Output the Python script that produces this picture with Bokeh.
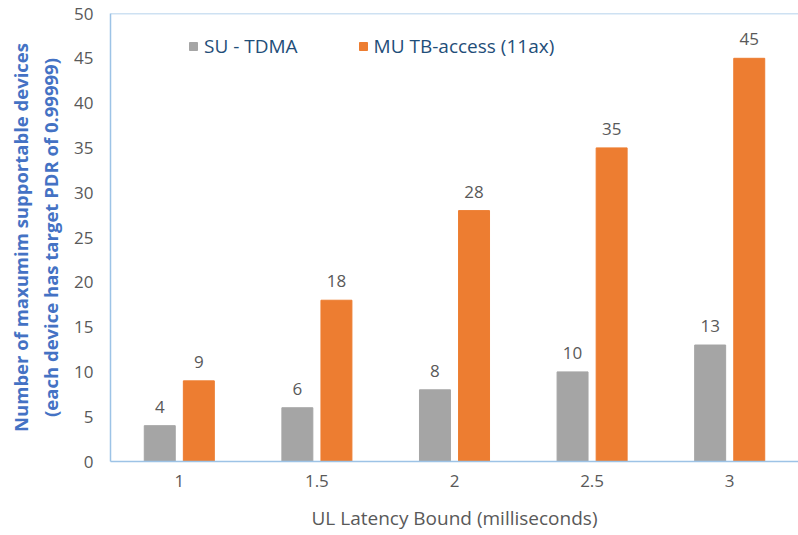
from bokeh.plotting import figure
from bokeh.models import ColumnDataSource, Range1d, LabelSet, Legend, LegendItem, Span
from bokeh.transform import dodge
from bokeh.core.properties import value
from bokeh.embed import file_html
from bokeh.resources import INLINE

categories = ["1", "1.5", "2", "2.5", "3"]
su_tdma = [4, 6, 8, 10, 13]
mu_tb = [9, 18, 28, 35, 45]
y_ticks = [0, 5, 10, 15, 20, 25, 30, 35, 40, 45, 50]

FONT = "Open Sans"
GRAY_TXT = "#595959"
AXIS_BLUE = "#9DC3E6"

source = ColumnDataSource(data=dict(
    x=categories,
    su=su_tdma,
    mu=mu_tb,
    su_txt=[str(v) for v in su_tdma],
    mu_txt=[str(v) for v in mu_tb],
))

p = figure(
    x_range=categories,
    y_range=Range1d(0, 50),
    width=798, height=535,
    output_backend="svg",
    toolbar_location=None,
    min_border_left=110, min_border_right=0,
    min_border_top=13, min_border_bottom=74,
)

off = 0.142
w = 0.225
r_su = p.vbar(x=dodge("x", -off, range=p.x_range), top="su", width=w, source=source,
              fill_color="#A5A5A5", line_color="#A5A5A5")
r_mu = p.vbar(x=dodge("x", off, range=p.x_range), top="mu", width=w, source=source,
              fill_color="#ED7D31", line_color="#ED7D31")

for col, txt, o in (("su", "su_txt", -off), ("mu", "mu_txt", off)):
    labels = LabelSet(x=dodge("x", o, range=p.x_range), y=col, text=txt, source=source,
                      text_align="center", text_baseline="middle", y_offset=19,
                      text_font=value(FONT), text_font_size=value("17px"),
                      text_color=GRAY_TXT)
    p.add_layout(labels)

p.xgrid.grid_line_color = None
p.ygrid.grid_line_color = None
p.outline_line_color = None
p.background_fill_color = "white"
p.border_fill_color = "white"

p.add_layout(Span(location=50, dimension="width", line_color=AXIS_BLUE, line_width=1.5))

p.yaxis.ticker = y_ticks
p.yaxis.axis_line_color = AXIS_BLUE
p.yaxis.axis_line_width = 1.5
p.yaxis.major_tick_line_color = None
p.yaxis.minor_tick_line_color = None
p.yaxis.major_tick_out = 0
p.yaxis.major_label_standoff = 17
p.yaxis.major_label_text_font = FONT
p.yaxis.major_label_text_font_size = "17px"
p.yaxis.major_label_text_color = GRAY_TXT
p.yaxis.axis_label = "Number of maxumim supportable devices\n(each device has target PDR of 0.99999)"
p.yaxis.axis_label_text_font = FONT
p.yaxis.axis_label_text_font_size = "18.5px"
p.yaxis.axis_label_text_font_style = "bold"
p.yaxis.axis_label_text_color = "#4472C4"
p.yaxis.axis_label_standoff = 8

p.xaxis.axis_line_color = AXIS_BLUE
p.xaxis.axis_line_width = 1.5
p.xaxis.major_tick_line_color = None
p.xaxis.minor_tick_line_color = None
p.xaxis.major_tick_out = 0
p.xaxis.major_label_standoff = 13
p.xaxis.major_label_text_font = FONT
p.xaxis.major_label_text_font_size = "17px"
p.xaxis.major_label_text_color = GRAY_TXT
p.xaxis.axis_label = "UL Latency Bound (milliseconds)"
p.xaxis.axis_label_text_font = FONT
p.xaxis.axis_label_text_font_size = "19px"
p.xaxis.axis_label_text_font_style = "normal"
p.xaxis.axis_label_text_color = GRAY_TXT
p.xaxis.axis_label_standoff = 15

legend = Legend(
    items=[LegendItem(label="SU - TDMA", renderers=[r_su]),
           LegendItem(label="MU TB-access (11ax)", renderers=[r_mu])],
    orientation="horizontal",
    location=(78, 402),
    padding=0, margin=0, spacing=60,
    glyph_width=10, glyph_height=10, label_standoff=6,
    border_line_alpha=0, background_fill_alpha=0,
    label_text_font=FONT, label_text_font_size="19px", label_text_color="#1F4E79",
)
p.add_layout(legend)

open("out.html", "w").write(file_html(p, INLINE))
